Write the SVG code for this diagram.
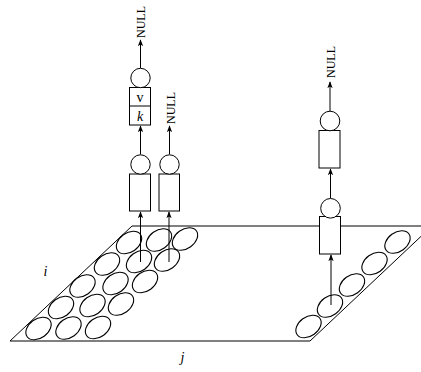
<svg xmlns="http://www.w3.org/2000/svg" width="421" height="372" viewBox="0 0 421 372">
<defs>
<marker id="ah" viewBox="0 0 8 8" refX="7" refY="4" markerWidth="7" markerHeight="7" markerUnits="userSpaceOnUse" orient="auto">
<path d="M0,1 L8,4 L0,7 L2,4 Z" fill="#000"/>
</marker>
<ellipse id="ov" rx="14" ry="9.6" transform="rotate(-36)"/>
</defs>
<style>
.ln{stroke:#000;stroke-width:1;fill:none}
.ov{stroke:#000;stroke-width:1.1;fill:none}
.bx{stroke:#000;stroke-width:1;fill:#fff}
.ar{stroke:#000;stroke-width:1;fill:none;marker-end:url(#ah)}
.null{font-family:"Liberation Serif",serif;font-size:12px;fill:#000}
.lbl{font-family:"Liberation Serif",serif;font-size:14px;font-style:italic;fill:#000}
.tx{font-family:"Liberation Serif",serif;font-size:14px;fill:#000}
</style>
<rect width="421" height="372" fill="#fff"/>
<g id="plane">
<polyline class="ln" points="432,226 132,226 10,341 310,341 432,226"/>
</g>
<g id="cells-left">
<use href="#ov" class="ov" x="38.5" y="328.5"/>
<use href="#ov" class="ov" x="68.5" y="328"/>
<use href="#ov" class="ov" x="98" y="327.5"/>
<use href="#ov" class="ov" x="61" y="307.5"/>
<use href="#ov" class="ov" x="92.5" y="305.5"/>
<use href="#ov" class="ov" x="121" y="304"/>
<use href="#ov" class="ov" x="82.5" y="286"/>
<use href="#ov" class="ov" x="115.5" y="283.5"/>
<use href="#ov" class="ov" x="145" y="281.5"/>
<use href="#ov" class="ov" x="107" y="264"/>
<use href="#ov" class="ov" x="139" y="261.5"/>
<use href="#ov" class="ov" x="167" y="260"/>
<use href="#ov" class="ov" x="129" y="242.5"/>
<use href="#ov" class="ov" x="159" y="240"/>
<use href="#ov" class="ov" x="185" y="239"/>
</g>
<g id="cells-right">
<use href="#ov" class="ov" x="308.5" y="326.5"/>
<use href="#ov" class="ov" x="330" y="306"/>
<use href="#ov" class="ov" x="352" y="285"/>
<use href="#ov" class="ov" x="374.5" y="263.5"/>
<use href="#ov" class="ov" x="397.5" y="242"/>
</g>
<g id="connectors">
<line class="ar" x1="140.5" y1="262" x2="140.5" y2="212"/>
<line class="ar" x1="169" y1="262" x2="169" y2="212"/>
<line class="ar" x1="140.5" y1="154.5" x2="140.5" y2="126"/>
<line class="ar" x1="169.5" y1="154.5" x2="169.5" y2="126"/>
<line class="ar" x1="140.5" y1="68" x2="140.5" y2="40"/>
<line class="ar" x1="331" y1="305" x2="331" y2="255"/>
<line class="ar" x1="330.5" y1="198" x2="330.5" y2="169"/>
<line class="ar" x1="330" y1="111" x2="330" y2="82"/>
</g>
<g id="node-a1">
<rect class="bx" x="129.5" y="174" width="21" height="37"/>
<circle class="bx" cx="140.5" cy="164.5" r="9.7"/>
</g>
<g id="node-a2">
<rect class="bx" x="159" y="174" width="20.5" height="37"/>
<circle class="bx" cx="169.5" cy="164.5" r="9.7"/>
</g>
<g id="node-a3">
<rect class="bx" x="129.5" y="87.5" width="21" height="37.5"/>
<line class="ln" x1="129.5" y1="106" x2="150.5" y2="106"/>
<circle class="bx" cx="140.5" cy="78" r="9.7"/>
<text class="tx" x="140" y="102" text-anchor="middle">v</text>
<text class="lbl" x="140" y="121" text-anchor="middle">k</text>
</g>
<g id="node-b1">
<rect class="bx" x="319.5" y="216.5" width="21" height="37.5"/>
<circle class="bx" cx="330.5" cy="208.3" r="9.8"/>
</g>
<g id="node-b2">
<rect class="bx" x="319" y="130.5" width="21" height="37.5"/>
<circle class="bx" cx="330" cy="121" r="9.8"/>
</g>
<g id="nulls">
<text class="null" transform="translate(144.5,38) rotate(-90)">NULL</text>
<text class="null" transform="translate(174.8,124) rotate(-90)">NULL</text>
<text class="null" transform="translate(334.8,78) rotate(-90)">NULL</text>
</g>
<g id="labels">
<text class="lbl" x="43.5" y="276">i</text>
<text class="lbl" x="180.5" y="362">j</text>
</g>
</svg>
